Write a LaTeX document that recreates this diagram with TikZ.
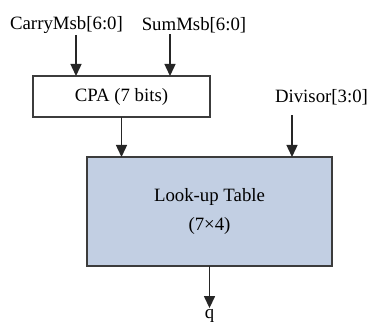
\documentclass[tikz,border=0pt]{standalone}
\usepackage{fontspec}
\setmainfont{Liberation Serif}
\usetikzlibrary{arrows.meta,positioning,calc}
\definecolor{mylightblue}{RGB}{194,207,227}
\definecolor{mydarkgray}{RGB}{60,60,60}
\tikzset{>={Triangle[length=6pt,width=5.5pt]}}

\begin{document}
\begin{tikzpicture}[x=0.5pt, y=-0.5pt, font=\fontsize{9.4}{14.5}\selectfont, box/.style = {draw=mydarkgray, line width=0.8pt, outer sep=0mm, inner sep=0mm}, lbl/.style = {inner sep=0.5pt}, wire/.style = {->, draw=black!85, line width=0.7pt}]
    \useasboundingbox (0,0) rectangle (379,331);
    \node[box, minimum width=88.5pt, minimum height=20.5pt] (cpa) at (121.5, 96.5) {CPA (7 bits)};
    \node[box, fill=mylightblue, minimum width=122.5pt, minimum height=54.5pt, align=center] (lut) at (209.5, 211.5) {Look-up Table\\(7×4)};
    \node[lbl] (carry) at (66.5, 25) {CarryMsb[6:0]};
    \node[lbl] (summsb) at (194, 25) {SumMsb[6:0]};
    \node[lbl] (divisor) at (321.5, 97) {Divisor[3:0]};
    \node[lbl] (q) at (209.5, 316) {q};
    \draw[wire] ([xshift=4.75pt]carry.south) -- ([xshift=4.75pt]carry.south |- cpa.north);
    \draw[wire] ([xshift=-12pt]summsb.south) -- ([xshift=-12pt]summsb.south |- cpa.north);
    \draw[wire] (cpa.south) -- (cpa.south |- lut.north);
    \draw[wire, shorten <=4.5pt] ([xshift=-14.75pt]divisor.south) -- ([xshift=-14.75pt]divisor.south |- lut.north);
    \draw[wire] (lut.south) -- (q.north);
\end{tikzpicture}
\end{document}
